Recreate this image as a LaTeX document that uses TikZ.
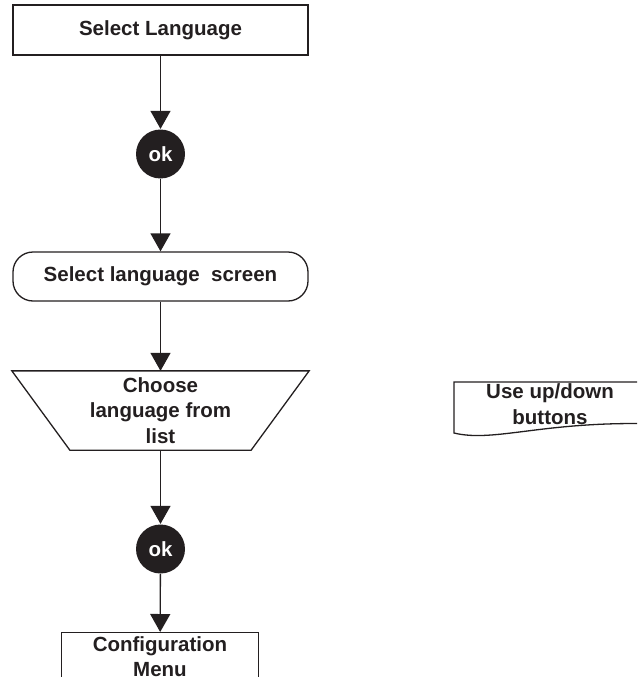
\documentclass[tikz,border=0pt]{standalone}
\usepackage{fontspec}
\setmainfont{Liberation Sans}
\usetikzlibrary{arrows.meta}
\definecolor{ink}{HTML}{231F20}
\begin{document}
\begin{tikzpicture}[x=1pt,y=-1pt, line width=1.3pt, draw=ink,
  txt/.style={font=\bfseries\fontsize{20.5}{25.5}\selectfont, align=center, text=ink},
  boxA/.style={draw=ink, rectangle, minimum width=295pt, minimum height=50pt, inner sep=0pt, txt},
  okc/.style={circle, fill=ink, minimum size=49pt, inner sep=0pt, font=\bfseries\fontsize{20.5}{25}\selectfont, text=white},
  arr/.style={draw=ink, -{Triangle[length=18pt,width=20pt]}},
]
\useasboundingbox (0,0) rectangle (637,677);
\clip (0,0) rectangle (637,677);
\node[boxA] (sel) at (160.5,30) {Select Language};
\node[okc] (ok1) at (160.5,154) {ok};
\node[boxA, rounded corners=20pt, minimum height=49pt] (scr) at (160.5,276.5) {Select language\ \ screen};
\node[txt, minimum width=296pt, minimum height=78pt, inner sep=0pt] (trap) at (160.5,410.5) {Choose\\language from\\list};
\draw[ink] (trap.north west) -- (trap.north east) -- ([xshift=-58pt]trap.south east) -- ([xshift=58pt]trap.south west) -- cycle;
\node[okc] (ok2) at (160.5,549) {ok};
\node[draw=ink, rectangle, minimum width=197pt, minimum height=80pt, inner sep=0pt, anchor=north] (cfg) at (160,632) {};
\node[txt] (cfgt) at (160,656.5) {Configuration\\Menu};
\node[txt] (doc) at (550,404) {Use up/down\\buttons};
\draw[ink] (660,382) -- (454,382) -- (454,433) .. controls (495,443) and (545,420) .. (660,424);
\draw[arr] (sel) -- (ok1);
\draw[arr] (ok1) -- (scr);
\draw[arr] (scr) -- (trap);
\draw[arr] (trap) -- (ok2);
\draw[arr] (ok2) -- (cfg);
\end{tikzpicture}
\end{document}
